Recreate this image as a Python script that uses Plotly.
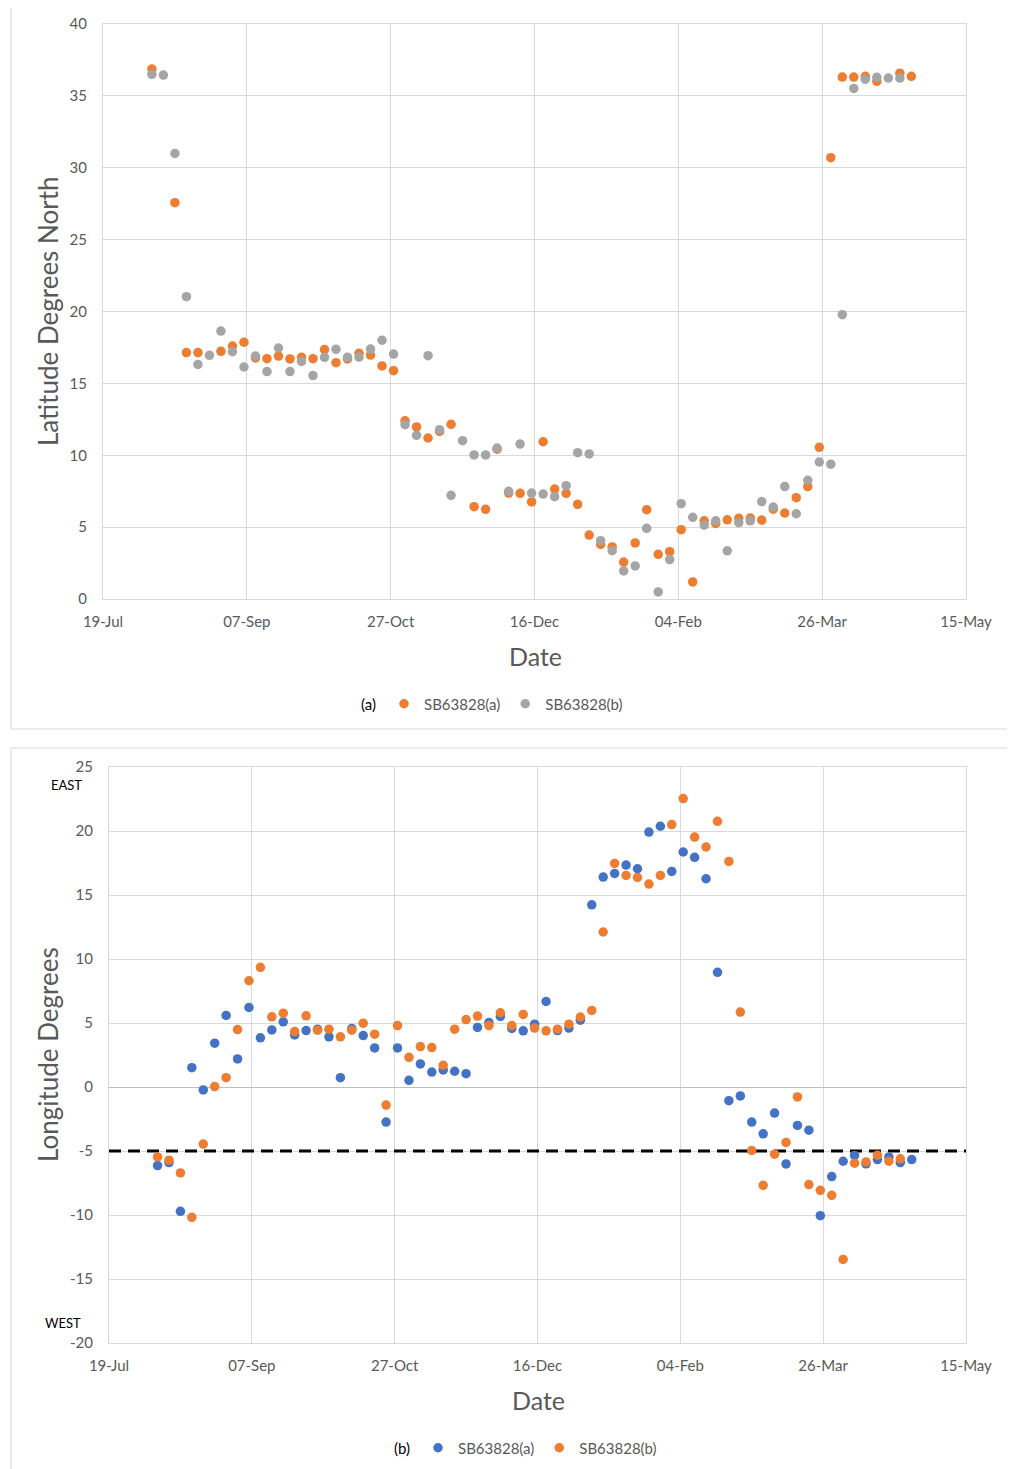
import plotly.graph_objects as go

# ---------------- data ----------------
DATES = [
    "2017-08-05", "2017-08-09", "2017-08-13", "2017-08-17", "2017-08-21", "2017-08-25", "2017-08-29",
    "2017-09-02", "2017-09-06", "2017-09-10", "2017-09-14", "2017-09-18", "2017-09-22", "2017-09-26", "2017-09-30",
    "2017-10-04", "2017-10-08", "2017-10-12", "2017-10-16", "2017-10-20", "2017-10-24", "2017-10-28",
    "2017-11-01", "2017-11-05", "2017-11-09", "2017-11-13", "2017-11-17", "2017-11-21", "2017-11-25", "2017-11-29",
    "2017-12-03", "2017-12-07", "2017-12-11", "2017-12-15", "2017-12-19", "2017-12-23", "2017-12-27", "2017-12-31",
    "2018-01-04", "2018-01-08", "2018-01-12", "2018-01-16", "2018-01-20", "2018-01-24", "2018-01-28",
    "2018-02-01", "2018-02-05", "2018-02-09", "2018-02-13", "2018-02-17", "2018-02-21", "2018-02-25",
    "2018-03-01", "2018-03-05", "2018-03-09", "2018-03-13", "2018-03-17", "2018-03-21", "2018-03-25", "2018-03-29",
    "2018-04-02", "2018-04-06", "2018-04-10", "2018-04-14", "2018-04-18", "2018-04-22", "2018-04-26",
]

LAT_A = [36.87, None, 27.57, 17.14, 17.14, None, 17.23, 17.6, 17.86, 16.77,
         16.72, 16.9, 16.7, 16.81, 16.72, 17.35, 16.44, 16.7, 17.09, 16.97,
         16.21, 15.88, 12.40, 11.97, 11.2, 11.66, 12.15, None, 6.42, 6.24,
         10.42, 7.37, 7.35, 6.75, 10.94, 7.65, 7.35, 6.59, 4.45, 3.8,
         3.62, 2.57, 3.9, 6.21, 3.11, 3.29, 4.82, 1.19, 5.44, 5.26,
         5.51, 5.61, 5.63, 5.49, 6.25, 5.98, 7.05, 7.82, 10.55, 30.70,
         36.31, 36.31, 36.36, 36.01, None, 36.58, 36.36]
LAT_B = [36.5, 36.45, 31.0, 21.03, 16.32, 16.95, 18.64, 17.2, 16.14, 16.9,
         15.82, 17.46, 15.82, 16.53, 15.54, 16.81, 17.37, 16.81, 16.83, 17.39,
         18.0, 17.04, 12.13, 11.39, 16.93, 11.78, 7.21, 11.01, 10.02, 10.02,
         10.5, 7.49, 10.78, 7.37, 7.30, 7.12, 7.88, 10.18, 10.09, 4.06,
         3.36, 1.95, 2.3, 4.92, 0.49, 2.74, 6.63, 5.68, 5.14, 5.44,
         3.35, 5.31, 5.44, 6.78, 6.40, 7.82, 5.93, 8.26, 9.53, 9.38,
         19.78, 35.52, 36.16, 36.29, 36.24, 36.24, None]

LON_A = [-6.14, -5.90, -9.71, 1.51, -0.23, 3.42, 5.59, 2.19, 6.21, 3.84,
         4.46, 5.09, 4.07, 4.41, 4.52, 3.92, 0.73, 4.57, 4.02, 3.05,
         -2.74, 3.05, 0.52, 1.80, 1.17, 1.33, 1.23, 1.04, 4.65, 5.04,
         5.51, 4.57, 4.39, 4.91, 6.68, 4.41, 4.60, 5.22, 14.23, 16.40,
         16.68, 17.34, 17.05, 19.92, 20.37, 16.84, 18.36, 17.94, 16.27, 8.96,
         -1.07, -0.70, -2.74, -3.66, -2.04, -6.01, -3.0, -3.37, -10.05, -7.0,
         -5.80, -5.35, -6.0, -5.67, -5.46, -5.90, -5.67]
LON_B = [-5.46, -5.72, -6.71, -10.18, -4.46, 0.03, 0.73, 4.49, 8.30, 9.35,
         5.48, 5.77, 4.33, 5.56, 4.44, 4.52, 3.92, 4.44, 4.99, 4.13,
         -1.41, 4.80, 2.32, 3.16, 3.08, 1.70, 4.52, 5.27, 5.54, 4.80,
         5.80, 4.80, 5.67, 4.60, 4.39, 4.52, 4.91, 5.46, 5.98, 12.11,
         17.47, 16.53, 16.37, 15.85, 16.53, 20.50, 22.53, 19.53, 18.75, 20.76,
         17.62, 5.85, -4.96, -7.68, -5.25, -4.33, -0.78, -7.62, -8.07, -8.46,
         -13.47, -5.95, -5.85, -5.33, -5.80, -5.61, None]

X_RANGE = ["2017-07-19", "2018-05-15"]
X_TICKS = ["2017-07-19", "2017-09-07", "2017-10-27", "2017-12-16",
           "2018-02-04", "2018-03-26", "2018-05-15"]
LAT_TICKS = [0, 5, 10, 15, 20, 25, 30, 35, 40]
LON_TICKS = [-20, -15, -10, -5, 0, 5, 10, 15, 20, 25]
LON_TICK_TEXT = ["-20", "-15", "-10", "-5", "0", "5", "10", "15", "20", "25"]
REF_LON = [-5, -5]

SERIES_A = "SB63828(a)"
SERIES_B = "SB63828(b)"

ORANGE = "#ED7D31"
GRAY = "#A5A5A5"
BLUE = "#4472C4"
TXT = "#595959"
GRID = "#D9D9D9"
FONT = "Lato"

# the page body adds an 8px offset; work in page pixels and convert
OFF = 8
W, H = 1007, 1461


def px(x):
    return (x - OFF) / W


def py(y):
    return 1 - (y - OFF) / H


MS = 9.5

fig = go.Figure()

# top chart
fig.add_trace(go.Scatter(x=DATES, y=LAT_A, mode="markers", name=SERIES_A,
                         marker=dict(color=ORANGE, size=MS), xaxis="x", yaxis="y",
                         legend="legend"))
fig.add_trace(go.Scatter(x=DATES, y=LAT_B, mode="markers", name=SERIES_B,
                         marker=dict(color=GRAY, size=MS), xaxis="x", yaxis="y",
                         legend="legend"))
# bottom chart
fig.add_trace(go.Scatter(x=X_RANGE, y=REF_LON, mode="lines", showlegend=False,
                         line=dict(color="black", width=3, dash="12px,7px"),
                         xaxis="x2", yaxis="y2", hoverinfo="skip"))
fig.add_trace(go.Scatter(x=DATES, y=LON_A, mode="markers", name=SERIES_A,
                         marker=dict(color=BLUE, size=MS), xaxis="x2", yaxis="y2",
                         legend="legend2"))
fig.add_trace(go.Scatter(x=DATES, y=LON_B, mode="markers", name=SERIES_B,
                         marker=dict(color=ORANGE, size=MS), xaxis="x2", yaxis="y2",
                         legend="legend2"))

xcommon = dict(type="date", range=X_RANGE, tickvals=X_TICKS, tickformat="%d-%b",
               showgrid=True, gridcolor=GRID, gridwidth=1, showline=True,
               linecolor=GRID, mirror=True, zeroline=False, ticks="",
               automargin=False,
               tickfont=dict(family=FONT, size=15, color=TXT),
               ticklabelstandoff=9)
ycommon = dict(showgrid=True, gridcolor=GRID, gridwidth=1, showline=True,
               linecolor=GRID, mirror=True, ticks="", automargin=False,
               tickfont=dict(family=FONT, size=15, color=TXT),
               ticklabelstandoff=12)

fig.update_layout(
    width=W, height=H, autosize=False,
    margin=dict(l=0, r=0, t=0, b=0, pad=0, autoexpand=False),
    paper_bgcolor="white", plot_bgcolor="white",
    font=dict(family=FONT, color=TXT),
    xaxis=dict(domain=[px(103), px(966)], anchor="y", **xcommon),
    yaxis=dict(domain=[py(599), py(24)], anchor="x", range=[0, 40],
               tickvals=LAT_TICKS, zeroline=False, **ycommon),
    xaxis2=dict(domain=[px(109), px(966)], anchor="y2", **xcommon),
    yaxis2=dict(domain=[py(1343), py(767)], anchor="x2", range=[-20, 25],
                tickvals=LON_TICKS, ticktext=LON_TICK_TEXT,
                zeroline=True, zerolinecolor="#BFBFBF", zerolinewidth=1, **ycommon),
    legend=dict(orientation="h", x=px(506), y=py(704), xanchor="center", yanchor="middle",
                font=dict(family=FONT, size=15, color=TXT), bgcolor="rgba(0,0,0,0)",
                itemwidth=30),
    legend2=dict(orientation="h", x=px(540), y=py(1448), xanchor="center", yanchor="middle",
                 font=dict(family=FONT, size=15, color=TXT), bgcolor="rgba(0,0,0,0)",
                 itemwidth=30),
    showlegend=True,
)

shapes = [
    dict(type="rect", xref="paper", yref="paper", x0=px(11), x1=px(1009),
         y0=py(729), y1=py(6), line=dict(color=GRID, width=1), layer="below"),
    dict(type="rect", xref="paper", yref="paper", x0=px(11), x1=px(1009),
         y0=py(1480), y1=py(748), line=dict(color=GRID, width=1), layer="below"),
]
fig.update_layout(shapes=shapes)

ann = [
    dict(text="Latitude Degrees North", x=px(48), y=py(311), textangle=-90,
         font=dict(family=FONT, size=26, color=TXT)),
    dict(text="Date", x=px(535), y=py(656), font=dict(family=FONT, size=25, color=TXT)),
    dict(text="(a)", x=px(368), y=py(704), font=dict(family=FONT, size=15, color="black")),
    dict(text="Longitude Degrees", x=px(48), y=py(1055), textangle=-90,
         font=dict(family=FONT, size=26, color=TXT)),
    dict(text="Date", x=px(538), y=py(1400), font=dict(family=FONT, size=25, color=TXT)),
    dict(text="(b)", x=px(402), y=py(1448), font=dict(family=FONT, size=15, color="black")),
    dict(text="EAST", x=px(66), y=py(785), font=dict(family=FONT, size=13, color="black")),
    dict(text="WEST", x=px(63), y=py(1323), font=dict(family=FONT, size=13, color="black")),
]
for a in ann:
    a.update(xref="paper", yref="paper", showarrow=False, xanchor="center", yanchor="middle")
fig.update_layout(annotations=ann)

fig.write_html("out.html")
